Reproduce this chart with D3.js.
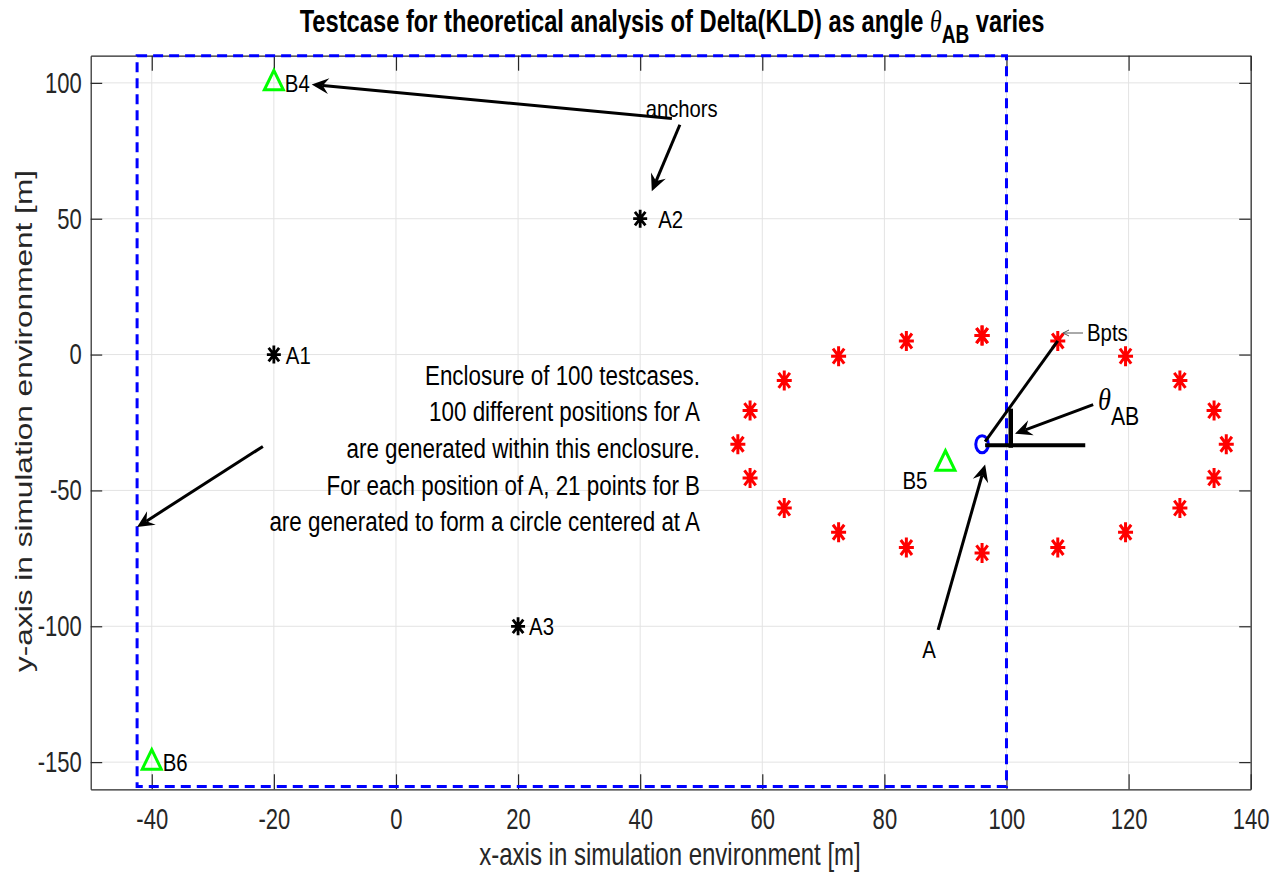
<!DOCTYPE html>
<html><head><meta charset="utf-8">
<script src="https://cdn.jsdelivr.net/npm/d3@7"></script>
<style>body{margin:0;background:#fff} svg{display:block}</style>
</head><body>
<svg id="c" width="1280" height="878"></svg>
<script>
// ---------- data ----------
const xTicks = [-40,-20,0,20,40,60,80,100,120,140];
const yTicks = [-150,-100,-50,0,50,100];
const xDomain = [-50,140];
const yDomain = [-160,110];
const anchorX = [-20,40,20];
const anchorY = [0,50,-100];
const anchorLab = ["A1","A2","A3"];
const bX = [-20,90,-40];
const bY = [100,-40,-150];
const bLab = ["B4","B5","B6"];
const aPos = [96,-33];
const bptsX = [96,83.6,72.5,63.6,58,56,58,63.6,72.5,83.6,96,108.4,119.5,128.4,134,136,134,128.4,119.5,108.4,96];
const bptsY = [7,5,-0.6,-9.5,-20.6,-33,-45.4,-56.5,-65.4,-71,-73,-71,-65.4,-56.5,-45.4,-33,-20.6,-9.5,-0.6,5,7];
const enclX = [-42.4,100];
const enclY = [-159,110];
const arrows = [[45.2,86.9,-13.8,99.4],[46.5,84.6,41.9,60.1],[-21.8,-33.8,-42.4,-63.5],[88.8,-101.3,96.5,-40.5],[114.2,-18.4,101.4,-29.1]];
const angleLines = [[96.5,-32,108.4,5],[96.5,-33.4,112.9,-33.4]];
const angleTick = [100.7,-19.9,100.7,-34.3];
const noteLines = ["Enclosure of 100 testcases.","100 different positions for A","are generated within this enclosure.","For each position of A, 21 points for B","are generated to form a circle centered at A"];
const notePos = [49.8,-11.1];
const titleMain = "Testcase for theoretical analysis of Delta(KLD) as angle ";
const titleTail = " varies";
const xLabel = "x-axis in simulation environment [m]";
const yLabel = "y-axis in simulation environment [m]";

// ---------- layout ----------
const L = 90.7, R = 1250.7, Tp = 55.7, B = 789.3;
const svg = d3.select("#c");
const FF = "'Liberation Sans', Arial, Helvetica, sans-serif";
const x = d3.scaleLinear().domain(xDomain).range([L,R]);
const y = d3.scaleLinear().domain(yDomain).range([B,Tp]);
const fmt = d => String(d);

// grid
const grid = svg.append("g").attr("stroke","#e3e3e3").attr("stroke-width",1);
grid.selectAll(".gx").data(xTicks).join("line").attr("x1",d=>x(d)).attr("x2",d=>x(d)).attr("y1",Tp).attr("y2",B);
grid.selectAll(".gy").data(yTicks).join("line").attr("y1",d=>y(d)).attr("y2",d=>y(d)).attr("x1",L).attr("x2",R);

// axes
const axCol = "#262626";
function styleAxis(g){ g.select(".domain").attr("stroke",axCol).attr("stroke-width",1.2); g.selectAll(".tick line").attr("stroke",axCol).attr("stroke-width",1.2); }
const gxB = svg.append("g").attr("transform",`translate(0,${B})`)
  .call(d3.axisBottom(x).tickValues(xTicks).tickFormat(fmt).tickSize(-15).tickPadding(19).tickSizeOuter(0));
styleAxis(gxB);
gxB.selectAll(".tick text").attr("font-family",FF).attr("font-size",29).attr("fill",axCol)
  .attr("transform","scale(0.76,1)");
const gxT = svg.append("g").attr("transform",`translate(0,${Tp})`)
  .call(d3.axisTop(x).tickValues(xTicks).tickSize(-15).tickFormat("").tickSizeOuter(0));
styleAxis(gxT);
const gyL = svg.append("g").attr("transform",`translate(${L},0)`)
  .call(d3.axisLeft(y).tickValues(yTicks).tickFormat(fmt).tickSize(-11.5).tickPadding(9).tickSizeOuter(0));
styleAxis(gyL);
gyL.selectAll(".tick text").attr("font-family",FF).attr("font-size",29).attr("fill",axCol)
  .attr("x",-9).attr("transform","scale(0.76,1) translate(-2.8,0)");
const gyR = svg.append("g").attr("transform",`translate(${R},0)`)
  .call(d3.axisRight(y).tickValues(yTicks).tickSize(-11.5).tickFormat("").tickSizeOuter(0));
styleAxis(gyR);
svg.selectAll(".domain").attr("fill","none");

// text helper
function T(g, px, py, s, o={}){
  const t = g.append("text")
    .attr("transform",`translate(${px},${py}) scale(${o.sx||0.8},1)`)
    .attr("font-family",o.ff||FF).attr("font-size",o.size||24)
    .attr("text-anchor",o.anchor||"start").attr("fill",o.fill||"#000")
    .attr("font-weight",o.weight||"normal");
  if (s!==null) t.text(s);
  return t;
}

// title
const tt = T(svg, 672, 32, null, {size:31, weight:"bold", anchor:"middle", sx:0.765});
tt.append("tspan").text(titleMain);
tt.append("tspan").attr("font-family","'Liberation Serif', 'DejaVu Serif', serif").attr("font-style","italic").attr("font-weight","normal").text("θ");
tt.append("tspan").attr("dy",11).attr("font-size",25).text("AB");
tt.append("tspan").attr("dy",-11).text(titleTail);

// axis labels
T(svg, 670, 865, xLabel, {size:31.6, anchor:"middle", sx:0.76, fill:axCol});
svg.append("text").attr("transform",`translate(32,421) rotate(-90) scale(1,0.76)`)
  .attr("font-family",FF).attr("font-size",31.6).attr("text-anchor","middle").attr("fill",axCol).text(yLabel);

// enclosure
svg.append("rect").attr("x",x(enclX[0])).attr("y",y(enclY[1]))
  .attr("width",x(enclX[1])-x(enclX[0])).attr("height",y(enclY[0])-y(enclY[1]))
  .attr("fill","none").attr("stroke","#0000ff").attr("stroke-width",3).attr("stroke-dasharray","10,6");

// asterisk marker
function asterisk(g, cx, cy, col, w, h, sw){
  const dx = w*0.75, dy = h*0.75;
  g.append("path").attr("d",
    `M${cx},${cy-h}L${cx},${cy+h}M${cx-w},${cy}L${cx+w},${cy}M${cx-dx},${cy-dy}L${cx+dx},${cy+dy}M${cx-dx},${cy+dy}L${cx+dx},${cy-dy}`)
    .attr("stroke",col).attr("stroke-width",sw).attr("fill","none");
}
const mk = svg.append("g");
bptsX.forEach((v,i)=>asterisk(mk, x(v), y(bptsY[i]), "#ff0000", 7.5, 10, 3));
anchorX.forEach((v,i)=>asterisk(mk, x(v), y(anchorY[i]), "#000", 7, 9, 2.8));

// triangles
bX.forEach((v,i)=>{
  const cx=x(v), cy=y(bY[i]);
  mk.append("path").attr("d",`M${cx},${cy-12.5}L${cx+9.5},${cy+7}L${cx-9.5},${cy+7}Z`)
    .attr("fill","none").attr("stroke","#00ff00").attr("stroke-width",3);
});

// A circle
mk.append("ellipse").attr("cx",x(aPos[0])).attr("cy",y(aPos[1])).attr("rx",6.3).attr("ry",8.5)
  .attr("fill","none").attr("stroke","#0000ff").attr("stroke-width",3);

// labels
const lb = svg.append("g");
const aOff = [12,18,11];
anchorX.forEach((v,i)=>T(lb, x(v)+aOff[i], y(anchorY[i])+9, anchorLab[i], {size:24, sx:0.85}));
T(lb, x(bX[0])+11, y(bY[0])+9, bLab[0], {size:24, sx:0.85});
T(lb, x(bX[1])-18, y(bY[1])+26, bLab[1], {size:24, sx:0.85, anchor:"end"});
T(lb, x(bX[2])+11, y(bY[2])+9, bLab[2], {size:24, sx:0.85});
T(lb, x(46.8), y(86.9)-1, "anchors", {size:23, sx:0.88, anchor:"middle"});
T(lb, x(aPos[0])-53, y(aPos[1])+214, "A", {size:24, sx:0.85, anchor:"middle"});
T(lb, 1087, 341, "Bpts", {size:24, sx:0.85});
const th = T(lb, 1098, 410, null, {size:31, sx:0.85});
th.append("tspan").attr("font-family","'Liberation Serif', 'DejaVu Serif', serif").attr("font-style","italic").text("θ");
th.append("tspan").attr("dy",15).attr("font-size",25).text("AB");

// note text
noteLines.forEach((s,i)=>T(lb, x(notePos[0]), y(notePos[1])+i*36.6, s, {size:28, sx:0.8, anchor:"end"}));

// arrows
const an = svg.append("g");
function arrow(x1,y1,x2,y2,Lh,W,sw){
  const a = Math.atan2(y2-y1,x2-x1), ux=Math.cos(a), uy=Math.sin(a), px=-uy, py=ux;
  const nx = x2-ux*Lh*0.65, ny = y2-uy*Lh*0.65;
  an.append("line").attr("x1",x1).attr("y1",y1).attr("x2",nx).attr("y2",ny).attr("stroke","#000").attr("stroke-width",sw);
  const bx=x2-ux*Lh, by=y2-uy*Lh;
  an.append("path").attr("d",`M${x2},${y2}L${bx+px*W},${by+py*W}L${nx},${ny}L${bx-px*W},${by-py*W}Z`).attr("fill","#000");
}
arrows.forEach(d=>arrow(x(d[0]),y(d[1]),x(d[2]),y(d[3]),17,8,3));
angleLines.forEach((d,i)=>an.append("line").attr("x1",x(d[0])).attr("y1",y(d[1])).attr("x2",x(d[2])).attr("y2",y(d[3]))
  .attr("stroke","#000").attr("stroke-width",i===0?3:4));
an.append("line").attr("x1",x(angleTick[0])).attr("y1",y(angleTick[1])).attr("x2",x(angleTick[2])).attr("y2",y(angleTick[3]))
  .attr("stroke","#000").attr("stroke-width",4.5);
// thin Bpts arrow
an.append("path").attr("d","M1083,333L1063,333M1069,330L1063,333L1069,336").attr("stroke","#555").attr("stroke-width",1).attr("fill","none");
</script>
</body></html>
